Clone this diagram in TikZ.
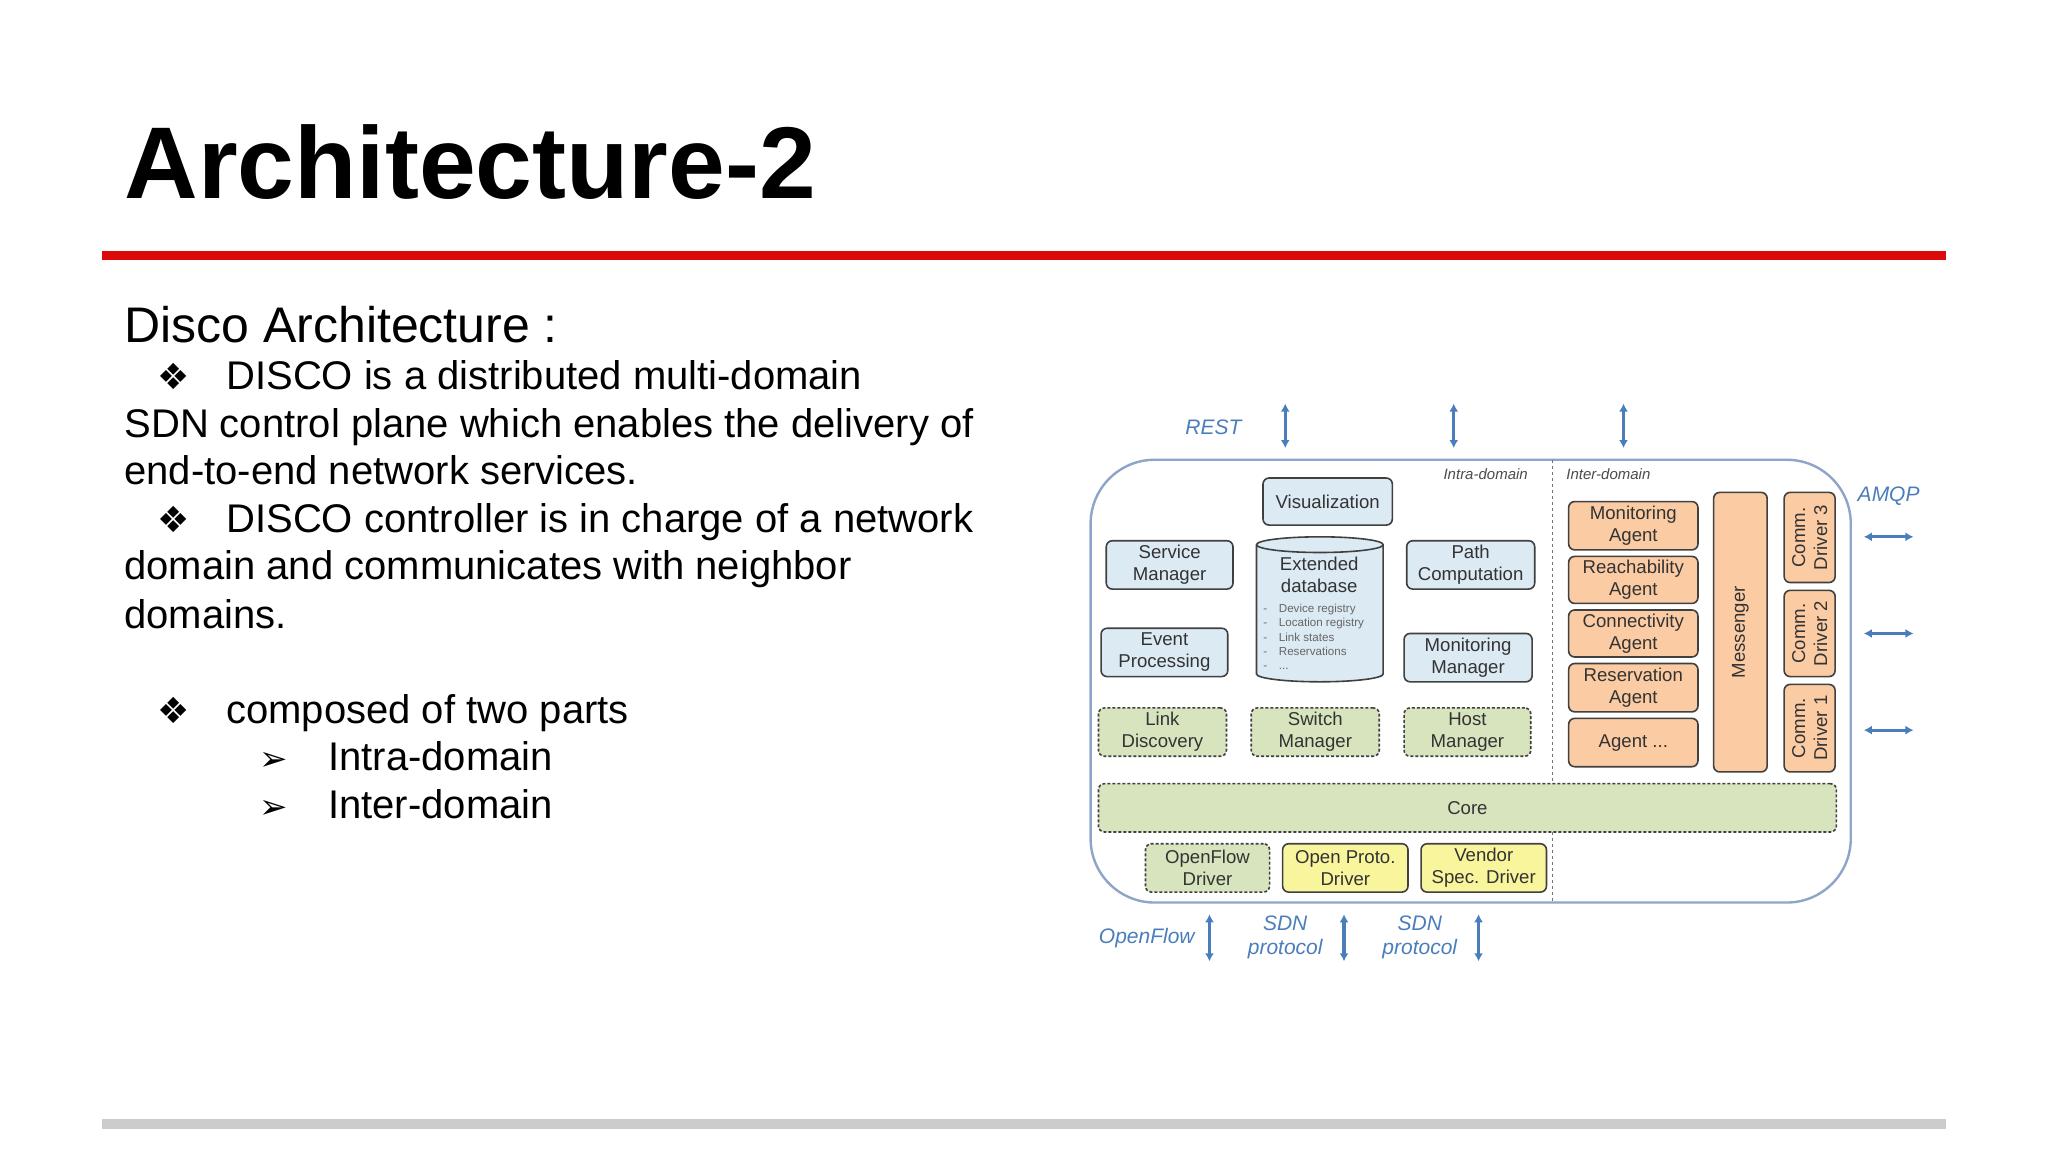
\documentclass[tikz,border=0pt]{standalone}
\usepackage{fontspec}
\setmainfont{Liberation Sans}
\newfontfamily\djv{DejaVu Sans}
\usetikzlibrary{arrows.meta}
\definecolor{lblue}{HTML}{DCEAF3}
\definecolor{lgreen}{HTML}{D7E4BD}
\definecolor{lyel}{HTML}{F8F59C}
\definecolor{lorange}{HTML}{FBCBA3}
\definecolor{abl}{HTML}{4A7EBB}
\definecolor{edge}{HTML}{404040}
\definecolor{outer}{HTML}{8EA4C8}
\definecolor{redl}{HTML}{DD0A0A}
\newcommand\bx[7]{\node[#1,minimum width={(#4-#2)*0.6531pt},minimum height={(#5-#3)*0.6531pt}] (#6) at ({(#2+#4)/2},{(#3+#5)/2}) {#7};}
\tikzset{
 box/.style={draw=edge,line width=0.8pt,rounded corners=3pt,inner sep=0pt,align=center,font=\fontsize{9.3}{11}\selectfont,text=black!80},
 blue box/.style={box,fill=lblue},
 green box/.style={box,fill=lgreen,dashed,dash pattern=on 1.5pt off 1pt},
 yel box/.style={box,fill=lyel},
 or box/.style={box,fill=lorange},
 link/.style={abl,line width=1.6pt,{Latex[length=4pt,width=4.5pt]}-{Latex[length=4pt,width=4.5pt]}},
 proto/.style={text=abl,font=\fontsize{10.5}{12}\selectfont\itshape,align=center,inner sep=0pt},
 dom/.style={text=black!70,font=\fontsize{7.5}{8}\selectfont\itshape,inner sep=0pt},
 body/.style={anchor=base west,inner sep=0pt,font=\fontsize{20}{22}\selectfont},
 sym/.style={anchor=base west,inner sep=0pt,font=\djv\fontsize{18}{20}\selectfont},
}
\begin{document}
\begin{tikzpicture}[x=0.6531pt,y=-0.6531pt]
\path[use as bounding box,fill=white] (0,0) rectangle (1568,882);
% title
\node[anchor=base west,inner sep=0pt,font=\fontsize{51}{56}\selectfont\bfseries] (title) at (95,152) {Architecture-2};
\fill[redl] (78,192) rectangle (1490,199);
\fill[black!20] (78,857) rectangle (1490,864);
% body text
\node[anchor=base west,inner sep=0pt,font=\fontsize{25}{28}\selectfont] (disco) at (95,262) {Disco Architecture :};
\node[sym] (b1) at (120,298) {❖};
\node[body] (t1) at (173,298) {DISCO is a distributed multi-domain};
\node[body] (t2) at (95,335) {SDN control plane which enables the delivery of};
\node[body] (t3) at (95,371) {end-to-end network services.};
\node[sym] (b2) at (120,408) {❖};
\node[body] (t4) at (173,408) {DISCO controller is in charge of a network};
\node[body] (t5) at (95,444) {domain and communicates with neighbor};
\node[body] (t6) at (95,481) {domains.};
\node[sym] (b3) at (120,554) {❖};
\node[body] (t7) at (173,554) {composed of two parts};
\node[sym,font=\djv\fontsize{17}{20}\selectfont] (b4) at (198,590) {➢};
\node[body] (t8) at (251,590) {Intra-domain};
\node[sym,font=\djv\fontsize{17}{20}\selectfont] (b5) at (198,627) {➢};
\node[body] (t9) at (251,627) {Inter-domain};
% diagram frame
\draw[outer,line width=1.2pt,rounded corners=32pt] (835,352) rectangle (1417,691);
\draw[black!55,line width=0.5pt,dash pattern=on 1.5pt off 1.5pt] (1189,352) -- (1189,691);
\node[dom,anchor=base east] (intra) at (1170,367) {Intra-domain};
\node[dom,anchor=base west] (inter) at (1199,367) {Inter-domain};
% intra boxes
\bx{blue box}{967}{366}{1066}{402}{vis}{Visualization}
\bx{blue box}{847}{414}{944}{451}{sm}{Service\\Manager}
\bx{blue box}{1077}{414}{1175}{451}{pc}{Path\\Computation}
\bx{blue box}{843}{481}{940}{518}{ep}{Event\\Processing}
\bx{blue box}{1075}{485}{1173}{522}{mm}{Monitoring\\Manager}
\bx{green box}{841}{542}{939}{579}{ld}{Link\\Discovery}
\bx{green box}{958}{542}{1056}{579}{swm}{Switch\\Manager}
\bx{green box}{1075}{542}{1172}{579}{hm}{Host\\Manager}
\bx{green box}{841}{600}{1406}{637}{core}{Core}
\bx{green box}{877}{646}{972}{683}{ofd}{OpenFlow\\Driver}
\bx{yel box}{982}{646}{1078}{683}{opd}{Open Proto.\\Driver}
\bx{yel box}{1088}{646}{1184}{683}{vsd}{Vendor\\Spec. Driver}
% database cylinder
\draw[edge,line width=0.8pt,fill=lblue] (962,417) -- (962,516) arc[start angle=180,end angle=360,x radius=48.5,y radius=-6] -- (1059,417) arc[start angle=0,end angle=180,x radius=48.5,y radius=-6];
\draw[edge,line width=0.8pt] (962,417) arc[start angle=180,end angle=360,x radius=48.5,y radius=-6];
\node[inner sep=0pt,align=center,font=\fontsize{9.3}{11}\selectfont,text=black!80] (db) at (1010,440) {Extended\\database};
\node[inner sep=0pt,anchor=north west,align=left,font=\fontsize{5.8}{7.2}\selectfont,text=black!60] (dbl) at (967,462) {-\quad Device registry\\-\quad Location registry\\-\quad Link states\\-\quad Reservations\\-\quad ...};
% inter boxes
\bx{or box}{1201}{384}{1300}{421}{ma}{Monitoring\\Agent}
\bx{or box}{1201}{426}{1300}{462}{ra}{Reachability\\Agent}
\bx{or box}{1201}{467}{1300}{503}{ca}{Connectivity\\Agent}
\bx{or box}{1201}{508}{1300}{545}{rsa}{Reservation\\Agent}
\bx{or box}{1201}{550}{1300}{587}{ag}{Agent ...}
\node[or box,rotate=90,minimum width={214*0.6531pt},minimum height={41*0.6531pt}] (msg) at (1332.5,484) {Messenger};
\node[or box,rotate=90,minimum width={69*0.6531pt},minimum height={39*0.6531pt}] (cd3) at (1385.5,411.5) {Comm.\\Driver 3};
\node[or box,rotate=90,minimum width={66*0.6531pt},minimum height={39*0.6531pt}] (cd2) at (1385.5,485) {Comm.\\Driver 2};
\node[or box,rotate=90,minimum width={67*0.6531pt},minimum height={39*0.6531pt}] (cd1) at (1385.5,557.5) {Comm.\\Driver 1};
% protocol labels and arrows
\node[proto] (rest) at (929,327) {REST};
\node[proto] (amqp) at (1446,380) {AMQP};
\node[proto] (of) at (878,718) {OpenFlow};
\node[proto] (sdn1) at (984,718) {SDN\\protocol};
\node[proto] (sdn2) at (1087,718) {SDN\\protocol};
\coordinate (r1a) at (984,309); \coordinate (r1b) at (984,343);
\coordinate (r2a) at (1113,309); \coordinate (r2b) at (1113,343);
\coordinate (r3a) at (1243,309); \coordinate (r3b) at (1243,343);
\draw[link] (r1a) -- (r1b);
\draw[link] (r2a) -- (r2b);
\draw[link] (r3a) -- (r3b);
\coordinate (h1a) at (1427,411); \coordinate (h1b) at (1465,411);
\coordinate (h2a) at (1427,485); \coordinate (h2b) at (1465,485);
\coordinate (h3a) at (1427,559); \coordinate (h3b) at (1465,559);
\draw[link] (h1a) -- (h1b);
\draw[link] (h2a) -- (h2b);
\draw[link] (h3a) -- (h3b);
\coordinate (v1a) at (926,700); \coordinate (v1b) at (926,736);
\coordinate (v2a) at (1029,700); \coordinate (v2b) at (1029,736);
\coordinate (v3a) at (1132,700); \coordinate (v3b) at (1132,736);
\draw[link] (v1a) -- (v1b);
\draw[link] (v2a) -- (v2b);
\draw[link] (v3a) -- (v3b);
\end{tikzpicture}
\end{document}
